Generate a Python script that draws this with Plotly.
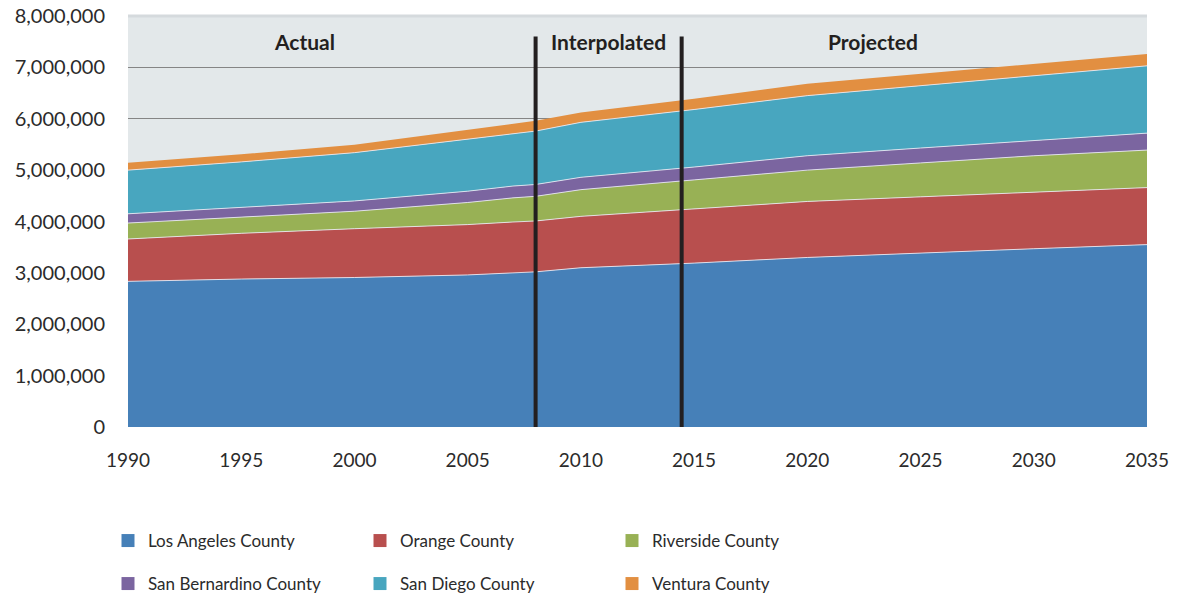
import plotly.graph_objects as go

years = [1990, 1995, 2000, 2005, 2007, 2008, 2010, 2015, 2020, 2025, 2030, 2035]

los_angeles = [2835000, 2880000, 2910000, 2960000, 3000000, 3020000, 3100000, 3190000, 3300000, 3390000, 3470000, 3550000]
orange = [825000, 890000, 950000, 980000, 990000, 990000, 1000000, 1060000, 1090000, 1090000, 1100000, 1110000]
riverside = [310000, 310000, 340000, 430000, 470000, 480000, 520000, 560000, 610000, 660000, 710000, 730000]
san_bernardino = [180000, 190000, 200000, 220000, 230000, 230000, 240000, 250000, 280000, 290000, 300000, 330000]
san_diego = [850000, 890000, 940000, 1010000, 1010000, 1040000, 1070000, 1120000, 1170000, 1210000, 1260000, 1310000]
ventura = [145000, 150000, 155000, 180000, 190000, 200000, 190000, 210000, 230000, 230000, 230000, 230000]

series_names = ["Los Angeles County", "Orange County", "Riverside County",
                "San Bernardino County", "San Diego County", "Ventura County"]
series_values = [los_angeles, orange, riverside, san_bernardino, san_diego, ventura]
colors = ["#4680b8", "#b84f4e", "#98b155", "#7b65a0", "#48a6bf", "#e28f41"]

period_labels = ["Actual", "Interpolated", "Projected"]
period_label_x = [1997.8, 2011.2, 2022.9]
period_breaks = [2008, 2014.45]

tick_years = [1990, 1995, 2000, 2005, 2010, 2015, 2020, 2025, 2030, 2035]
y_ticks = [0, 1000000, 2000000, 3000000, 4000000, 5000000, 6000000, 7000000, 8000000]

FONT = "Lato"
TEXT = "#2b2b2b"
W, H = 1184, 599
OFF = 8  # page body margin

fig = go.Figure()
for i, (name, vals, col) in enumerate(zip(series_names, series_values, colors)):
    fig.add_trace(go.Scatter(
        x=years, y=vals, name=name, mode="lines",
        stackgroup="one", fillcolor=col,
        line=dict(width=1 if i < 5 else 0, color="rgba(235,235,245,0.85)"),
        showlegend=False, hoverinfo="x+y+name",
    ))

# legend entries (square swatches), split into two rows
for i, (name, col) in enumerate(zip(series_names, colors)):
    fig.add_trace(go.Scatter(
        x=[None], y=[None], mode="markers", name=name,
        marker=dict(symbol="square", size=13, color=col),
        legend="legend" if i < 3 else "legend2",
    ))

for xb in period_breaks:
    fig.add_shape(type="line", xref="x", yref="y", x0=xb, x1=xb, y0=0, y1=7600000,
                  line=dict(color="#231f20", width=4))

for lbl, lx in zip(period_labels, period_label_x):
    fig.add_annotation(x=lx, y=7.5e6, xref="x", yref="y", text="<b>" + lbl + "</b>",
                       showarrow=False, font=dict(family=FONT, size=21, color="#231f20"))

# soften top edge of the panel
fig.add_shape(type="line", xref="paper", yref="paper", x0=0, x1=1, y0=1, y1=1,
              line=dict(color="#d5dadd", width=3))

legend_common = dict(orientation="h", xref="container", yref="container",
                     xanchor="left", yanchor="middle",
                     entrywidth=207, entrywidthmode="pixels", bgcolor="rgba(0,0,0,0)",
                     traceorder="normal",
                     font=dict(family=FONT, size=17, color=TEXT), itemclick=False)

fig.update_layout(
    width=W, height=H,
    margin=dict(l=128 - OFF, r=W - (1147 - OFF), t=16 - OFF, b=H - (427 - OFF), autoexpand=False),
    paper_bgcolor="white", plot_bgcolor="#e3e8ea",
    font=dict(family=FONT, size=19, color=TEXT),
    xaxis=dict(range=[1990, 2035], tickvals=tick_years, showgrid=False, zeroline=False,
               ticks="", ticklabelstandoff=20, showline=False, automargin=False,
               ticklabeloverflow="allow",
               tickfont=dict(family=FONT, size=19, color=TEXT)),
    yaxis=dict(range=[0, 8000000], tickvals=y_ticks, tickformat=",d", showgrid=True,
               gridcolor="#858585", gridwidth=1, zeroline=False, ticks="", automargin=False,
               ticklabeloverflow="allow",
               ticklabelstandoff=22, tickfont=dict(family=FONT, size=20, color=TEXT)),
    legend=dict(x=(108 - OFF) / W, y=1 - (541 - OFF) / H, **legend_common),
    legend2=dict(x=(108 - OFF) / W, y=1 - (584 - OFF) / H, **legend_common),
    showlegend=True,
)

fig.write_html("out.html")
